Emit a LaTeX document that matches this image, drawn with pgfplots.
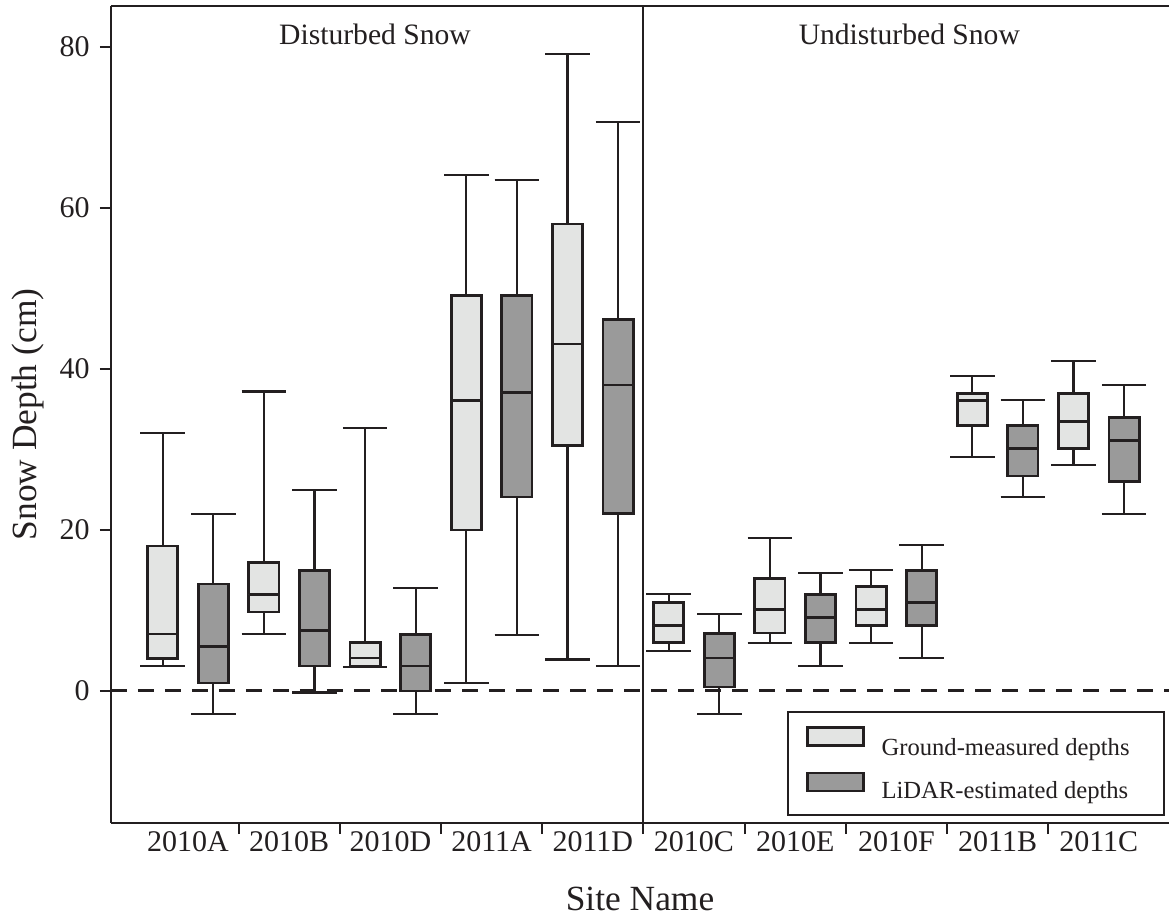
\documentclass[border=0pt]{standalone}
\usepackage{fontspec}
\setmainfont{Liberation Serif}
\usepackage{pgfplots}
\pgfplotsset{compat=1.18}
\usepgfplotslibrary{statistics}

\definecolor{edge}{HTML}{231F20}
\definecolor{gLight}{HTML}{E3E4E3}
\definecolor{gDark}{HTML}{9A9A9A}

% one box: position, median, lower quartile, upper quartile, lower whisker, upper whisker, fill
\newcommand{\bx}[7]{%
  \addplot[draw=edge, fill=#7, forget plot,
    boxplot prepared={draw position=#1, median=#2,
      lower quartile=#3, upper quartile=#4,
      lower whisker=#5, upper whisker=#6,
      box extend=0.3, whisker extend=0.44}]
    coordinates {};}

\begin{document}
\begin{tikzpicture}
\path[use as bounding box] (-55.5pt,-47pt) rectangle (529pt,411.5pt);
\begin{axis}[
  scale only axis,
  width=529pt, height=408.5pt,
  xmin=-0.761, xmax=9.694,
  ymin=-16.4, ymax=85.09,
  axis x line*=box, axis y line*=left,
  x axis line style={-, draw=edge, line width=1pt},
  y axis line style={-, draw=edge, line width=1pt},
  xtick pos=left, ytick pos=left,
  tick align=outside,
  ytick={0,20,40,60,80},
  major tick length=5.5pt,
  tick style={draw=edge, line width=1pt},
  xtick={0.5,1.5,...,8.5},
  xticklabels={},
  extra x ticks={0,1,2,3,4,5,6,7,8,9},
  extra x tick labels={2010A,2010B,2010D,2011A,2011D,2010C,2010E,2010F,2011B,2011C},
  extra x tick style={major tick length=0pt, tick style={draw=none}},
  /pgf/number format/assume math mode=true,
  ticklabel style={font=\fontsize{15}{18}\selectfont, text=edge},
  yticklabel style={inner xsep=5pt},
  xticklabel style={inner ysep=4pt},
  every axis x label/.style={at={([yshift=-43.5pt]rel axis cs:0.5,0)}, anchor=base},
  every axis y label/.style={at={([xshift=-37pt]rel axis cs:0,0.5)}, rotate=90, anchor=base},
  label style={font=\fontsize{17.7}{20}\selectfont, text=edge},
  xlabel={Site Name},
  ylabel={Snow Depth (cm)},
  boxplot/draw direction=y,
  boxplot/every box/.style={line width=1.4pt},
  boxplot/every whisker/.style={line width=1.1pt},
  boxplot/every median/.style={line width=1.3pt},
  legend style={at={(0.9962,0.0085)}, anchor=south east,
    draw=edge, line width=1pt, fill=white,
    inner xsep=8.7pt, inner ysep=7pt, row sep=6.5pt, column sep=8.5pt,
    nodes={inner sep=0pt, text=edge},
    font=\fontsize{12.3}{14}\selectfont},
  legend cell align=left,
]
% reference line at zero depth
\addplot[draw=edge, line width=1.5pt, dash pattern=on 8pt off 5.5pt, forget plot]
  coordinates {(-0.761,0) (9.694,0)};
% divider between the two groups of sites
\addplot[draw=edge, line width=1pt, forget plot]
  coordinates {(4.5,-16.4) (4.5,85.09)};

% Disturbed snow
\bx{-0.25}{7.1}{4.0}{18.0}{3.1}{32.0}{gLight}
\bx{0.25}{5.5}{1.0}{13.3}{-2.9}{22.0}{gDark}
\bx{0.75}{12.0}{9.8}{16.0}{7.1}{37.2}{gLight}
\bx{1.25}{7.5}{3.1}{15.0}{-0.2}{25.0}{gDark}
\bx{1.75}{4.1}{3.1}{6.0}{3.0}{32.7}{gLight}
\bx{2.25}{3.1}{0.0}{7.0}{-2.9}{12.8}{gDark}
\bx{2.75}{36.1}{20.0}{49.1}{1.0}{64.1}{gLight}
\bx{3.25}{37.1}{24.1}{49.1}{7.0}{63.5}{gDark}
\bx{3.75}{43.1}{30.5}{58.0}{3.9}{79.1}{gLight}
\bx{4.25}{38.0}{22.0}{46.1}{3.1}{70.7}{gDark}
% Undisturbed snow
\bx{4.75}{8.1}{6.0}{11.0}{5.0}{12.0}{gLight}
\bx{5.25}{4.1}{0.5}{7.1}{-2.9}{9.6}{gDark}
\bx{5.75}{10.1}{7.2}{14.0}{6.0}{19.0}{gLight}
\bx{6.25}{9.1}{6.0}{12.0}{3.1}{14.7}{gDark}
\bx{6.75}{10.1}{8.1}{13.0}{6.0}{15.0}{gLight}
\bx{7.25}{11.0}{8.1}{15.0}{4.1}{18.1}{gDark}
\bx{7.75}{36.1}{33.0}{37.0}{29.1}{39.1}{gLight}
\bx{8.25}{30.1}{26.7}{33.0}{24.1}{36.1}{gDark}
\bx{8.75}{33.5}{30.1}{37.0}{28.1}{41.0}{gLight}
\bx{9.25}{31.1}{26.0}{34.0}{22.0}{38.0}{gDark}

\addlegendimage{legend image code/.code={\draw[fill=gLight, draw=edge, line width=1.4pt] (0pt,0pt) rectangle (28pt,9pt);}}
\addlegendentry{\rule{0pt}{11.4pt}Ground-measured depths\hspace*{8.5pt}}
\addlegendimage{legend image code/.code={\draw[fill=gDark, draw=edge, line width=1.4pt] (0pt,0pt) rectangle (28pt,9pt);}}
\addlegendentry{LiDAR-estimated depths\rule[-9.5pt]{0pt}{0pt}}

\node[font=\fontsize{14.8}{17}\selectfont, text=edge, anchor=base] at (axis cs:1.848,80.25) {Disturbed Snow};
\node[font=\fontsize{14.8}{17}\selectfont, text=edge, anchor=base] at (axis cs:7.128,80.25) {Undisturbed Snow};
\end{axis}
\end{tikzpicture}
\end{document}
